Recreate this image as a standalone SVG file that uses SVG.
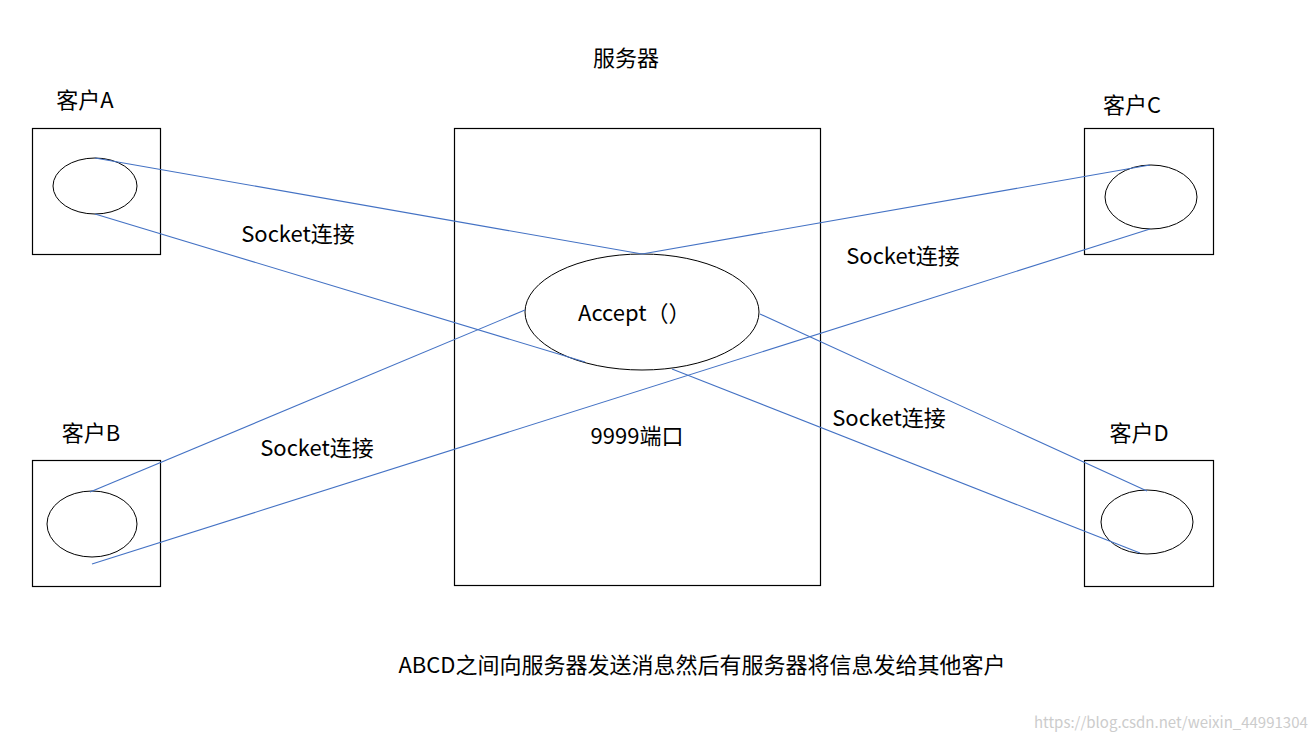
<svg xmlns="http://www.w3.org/2000/svg" width="1316" height="742" viewBox="0 0 1316 742">
<style>
.b{fill:none;stroke:#000;stroke-width:1.2}
.e{fill:#fff;stroke:#000;stroke-width:1}
.c{stroke:#4472C4;stroke-width:1.1;fill:none}
text{font-family:"Noto Sans CJK SC","Noto Sans",sans-serif;font-size:22px;fill:#000}
.m{text-anchor:middle}
</style>
<rect width="1316" height="742" fill="#fff"/>
<g id="server"><rect class="b" x="454.5" y="128.5" width="366" height="457"/><text class="m" x="626" y="66">服务器</text><text class="m" x="637" y="444">9999端口</text></g>
<g id="accept"><ellipse class="e" cx="642" cy="312" rx="117" ry="58"/><text x="578" y="321">Accept（）</text></g>
<g id="clientA"><rect class="b" x="32.5" y="128.5" width="128" height="126"/><ellipse class="e" cx="95" cy="186" rx="42" ry="28"/><text class="m" x="85" y="108">客户A</text></g>
<g id="clientB"><rect class="b" x="32.5" y="460.5" width="128" height="126"/><ellipse class="e" cx="92" cy="524" rx="45" ry="33"/><text class="m" x="91" y="441">客户B</text></g>
<g id="clientC"><rect class="b" x="1084.5" y="128.5" width="129" height="126"/><ellipse class="e" cx="1151" cy="197" rx="46" ry="32"/><text class="m" x="1132" y="113">客户C</text></g>
<g id="clientD"><rect class="b" x="1084.5" y="460.5" width="129" height="126"/><ellipse class="e" cx="1147" cy="522" rx="46" ry="32"/><text class="m" x="1139" y="441">客户D</text></g>
<g id="connectors">
<line class="c" x1="95" y1="158" x2="642" y2="254"/>
<line class="c" x1="95" y1="214" x2="585" y2="362"/>
<line class="c" x1="1150" y1="165" x2="642" y2="254"/>
<line class="c" x1="1150" y1="229" x2="92" y2="564"/>
<line class="c" x1="90" y1="492" x2="525" y2="310"/>
<line class="c" x1="760" y1="314" x2="1147" y2="491"/>
<line class="c" x1="672" y1="369" x2="1140" y2="553"/>
</g>
<g id="labels">
<text class="m" x="298" y="242">Socket连接</text>
<text class="m" x="903" y="264">Socket连接</text>
<text class="m" x="317" y="456">Socket连接</text>
<text class="m" x="889" y="426">Socket连接</text>
<text class="m" x="702" y="673">ABCD之间向服务器发送消息然后有服务器将信息发给其他客户</text>
<text x="1034" y="728" style="font-size:15px;fill:#ccc">https://blog.csdn.net/weixin_44991304</text>
</g>
</svg>
